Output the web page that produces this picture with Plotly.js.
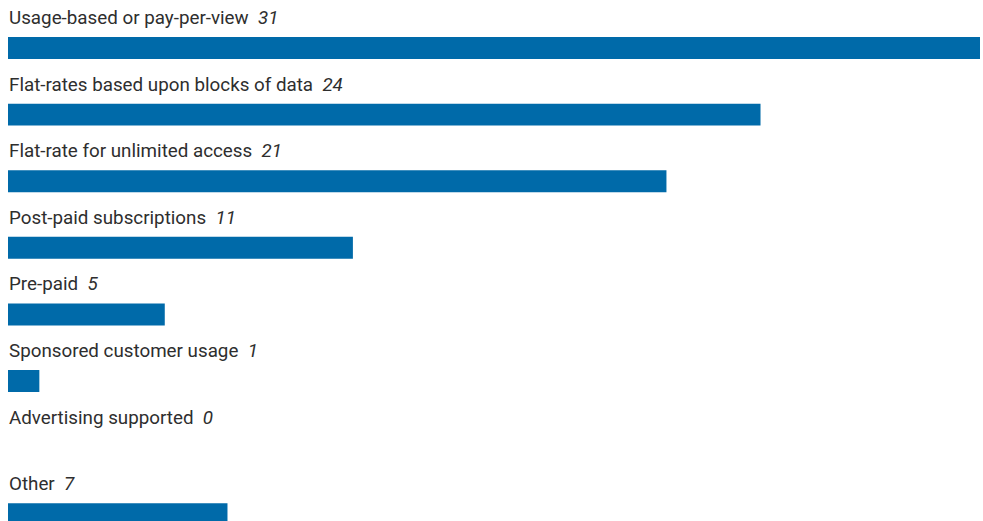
<!DOCTYPE html>
<html>
<head>
<meta charset="utf-8">
<script src="https://cdn.plot.ly/plotly-3.0.1.min.js"></script>
<style>html,body{margin:0;padding:0;background:#fff;}#chart{width:983px;height:521px;}</style>
</head>
<body>
<div id="chart"></div>
<script>
const categories = [
  "Usage-based or pay-per-view",
  "Flat-rates based upon blocks of data",
  "Flat-rate for unlimited access",
  "Post-paid subscriptions",
  "Pre-paid",
  "Sponsored customer usage",
  "Advertising supported",
  "Other"
];
const values = [31, 24, 21, 11, 5, 1, 0, 7];

const FONT = "Roboto, Arial, sans-serif";

const trace = {
  type: "bar",
  orientation: "h",
  x: values,
  y: categories,
  width: 0.33,
  marker: {color: "#006aa9"},
  hoverinfo: "none"
};

const annotations = categories.map((c, i) => ({
  x: 0, y: c, xref: "x", yref: "y",
  xanchor: "left", yanchor: "middle",
  xshift: -1, yshift: 30,
  showarrow: false,
  align: "left",
  text: c + "  <i>" + values[i] + "</i>",
  font: {family: FONT, size: 18.8, color: "#2e2e2e"}
}));

const layout = {
  width: 983, height: 521,
  margin: {l: 8, r: 3, t: 0, b: 0, pad: 0},
  paper_bgcolor: "#ffffff",
  plot_bgcolor: "#ffffff",
  showlegend: false,
  xaxis: {range: [0, 31], visible: false, fixedrange: true},
  yaxis: {type: "category", range: [7.102, -0.721], visible: false, fixedrange: true},
  annotations: annotations
};

Plotly.newPlot("chart", [trace], layout, {displayModeBar: false, staticPlot: true});
</script>
</body>
</html>
